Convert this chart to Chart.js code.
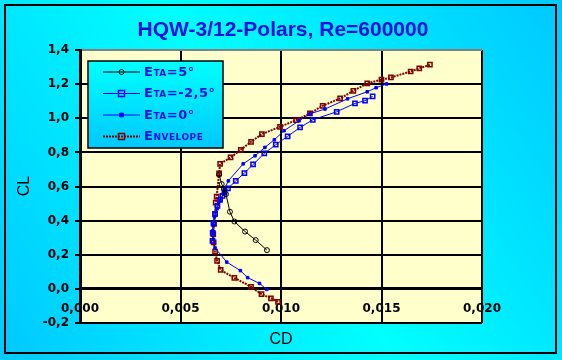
<!DOCTYPE html>
<html>
<head>
<meta charset="utf-8">
<script src="https://cdn.jsdelivr.net/npm/chart.js@4/dist/chart.umd.min.js"></script>
<style>
html,body{margin:0;padding:0;background:#fff;}
canvas{display:block;}
</style>
</head>
<body>
<canvas id="c" width="562" height="360"></canvas>
<script>
// ---- data ----
const titleText = 'HQW-3/12-Polars, Re=600000';
const xTitle = 'CD';
const yTitle = 'CL';
const seriesNames = ['Eta=5°', 'Eta=-2,5°', 'Eta=0°', 'Envelope'];

const xTickLabels = ['0,000', '0,005', '0,010', '0,015', '0,020'];
const yTickLabels = ['-0,2', '0,0', '0,2', '0,4', '0,6', '0,8', '1,0', '1,2', '1,4'];

const eta5CD = [0.00692, 0.00705, 0.00716, 0.00726, 0.00746, 0.00768, 0.00821, 0.00874, 0.00930];
const eta5CL = [0.669, 0.614, 0.585, 0.555, 0.452, 0.395, 0.336, 0.286, 0.227];

const etaM25CD = [0.00659, 0.00660, 0.00664, 0.00672, 0.00684, 0.00697, 0.00709, 0.00719, 0.00736, 0.00775, 0.00818, 0.00861, 0.00917, 0.00974, 0.01033, 0.01095, 0.01158, 0.01277, 0.01368, 0.01418, 0.01456];
const etaM25CL = [0.282, 0.328, 0.384, 0.440, 0.487, 0.522, 0.545, 0.566, 0.589, 0.633, 0.679, 0.729, 0.794, 0.845, 0.894, 0.946, 0.991, 1.038, 1.087, 1.103, 1.128];

const eta0CD = [0.00929, 0.00893, 0.00834, 0.00798, 0.00730, 0.00672, 0.00663, 0.00660, 0.00662, 0.00669, 0.00682, 0.00697, 0.00713, 0.00718, 0.00738, 0.00812, 0.00871, 0.00920, 0.00967, 0.01015, 0.01090, 0.01144, 0.01219, 0.01331, 0.01429, 0.01473, 0.01526];
const eta0CL = [-0.003, 0.032, 0.066, 0.107, 0.157, 0.240, 0.291, 0.340, 0.375, 0.422, 0.469, 0.516, 0.557, 0.585, 0.633, 0.733, 0.780, 0.829, 0.874, 0.927, 0.985, 1.026, 1.054, 1.114, 1.155, 1.179, 1.201];

const envCD = [0.00985, 0.00950, 0.00903, 0.00851, 0.00768, 0.00700, 0.00682, 0.00672, 0.00665, 0.00663, 0.00667, 0.00672, 0.00675, 0.00680, 0.00692, 0.00697, 0.00749, 0.00800, 0.00851, 0.00905, 0.00995, 0.01075, 0.01144, 0.01207, 0.01294, 0.01360, 0.01429, 0.01500, 0.01547, 0.01645, 0.01688, 0.01741];
const envCL = [-0.076, -0.055, -0.031, 0.012, 0.065, 0.111, 0.164, 0.219, 0.272, 0.321, 0.381, 0.440, 0.506, 0.541, 0.677, 0.733, 0.770, 0.815, 0.862, 0.907, 0.950, 0.989, 1.028, 1.073, 1.116, 1.161, 1.204, 1.226, 1.239, 1.274, 1.292, 1.314];

function pts(xs, ys) { return xs.map((x, i) => ({x: x, y: ys[i]})); }

const BLUE_TXT = '#1010DD';

const bgPlugin = {
  id: 'bg',
  beforeDraw(chart) {
    const ctx = chart.ctx, W = chart.width, H = chart.height;
    ctx.save();
    const g = ctx.createLinearGradient(W, 0, 0, H);
    g.addColorStop(0, '#00C8FF');
    g.addColorStop(0.5, '#00FFFF');
    g.addColorStop(1, '#00C8FF');
    ctx.fillStyle = g;
    ctx.fillRect(0, 0, W, H);
    ctx.strokeStyle = '#000';
    ctx.lineWidth = 2;
    ctx.strokeRect(5, 5, 551, 348);
    const a = chart.chartArea;
    ctx.fillStyle = '#FFFFCC';
    ctx.fillRect(a.left, a.top, a.right - a.left, a.bottom - a.top);
    ctx.restore();
  },
  afterDraw(chart) {
    const ctx = chart.ctx, a = chart.chartArea;
    ctx.save();
    // title
    ctx.fillStyle = BLUE_TXT;
    ctx.font = 'bold 21px "Liberation Sans", Arial, sans-serif';
    ctx.textAlign = 'center';
    ctx.textBaseline = 'middle';
    ctx.fillText(titleText, 283, 30);
    // axis titles
    ctx.fillStyle = '#000';
    ctx.font = '16px "Liberation Sans", Arial, sans-serif';
    ctx.fillText(xTitle, (a.left + a.right) / 2, 340);
    ctx.save();
    ctx.translate(25, 186);
    ctx.rotate(-Math.PI / 2);
    ctx.fillText(yTitle, 0, 0);
    ctx.restore();
    // legend
    const bx = 88, by = 61, bw = 135, bh = 87;
    const lg = ctx.createLinearGradient(0, by, 0, by + bh);
    lg.addColorStop(0, '#00FFFF');
    lg.addColorStop(1, '#00C8FF');
    ctx.fillStyle = lg;
    ctx.fillRect(bx, by, bw, bh);
    ctx.strokeStyle = '#000';
    ctx.lineWidth = 1.5;
    ctx.strokeRect(bx, by, bw, bh);
    const rows = [72, 93.5, 115, 136.5];
    chart.data.datasets.forEach((ds, i) => {
      const y = rows[i];
      ctx.save();
      ctx.strokeStyle = ds.borderColor;
      ctx.lineWidth = ds.borderWidth;
      ctx.setLineDash(ds.borderDash || []);
      ctx.beginPath();
      ctx.moveTo(103, y);
      ctx.lineTo(140, y);
      ctx.stroke();
      ctx.setLineDash([]);
      ctx.fillStyle = ds.pointBackgroundColor;
      ctx.strokeStyle = ds.pointBorderColor;
      ctx.lineWidth = ds.pointBorderWidth;
      ctx.beginPath();
      const r = ds.pointRadius;
      if (ds.pointStyle === 'rect') {
        ctx.rect(121.5 - r, y - r, 2 * r, 2 * r);
      } else {
        ctx.arc(121.5, y, r, 0, Math.PI * 2);
      }
      ctx.fill();
      ctx.stroke();
      ctx.restore();
      ctx.save();
      ctx.fillStyle = BLUE_TXT;
      ctx.font = 'bold 13px "DejaVu Sans", sans-serif';
      if ('fontVariantCaps' in ctx) ctx.fontVariantCaps = 'small-caps';
      if ('letterSpacing' in ctx) ctx.letterSpacing = '0.5px';
      ctx.textAlign = 'left';
      ctx.textBaseline = 'middle';
      ctx.fillText(seriesNames[i], 144, y + 0.5);
      ctx.restore();
    });
    ctx.restore();
  }
};

const chart = new Chart(document.getElementById('c'), {
  type: 'scatter',
  data: {
    datasets: [
      {
        label: seriesNames[0], data: pts(eta5CD, eta5CL), showLine: true,
        borderColor: '#000000', borderWidth: 1,
        pointStyle: 'circle', pointRadius: 2.5, pointBorderWidth: 1,
        pointBorderColor: '#000000', pointBackgroundColor: 'rgba(0,0,0,0)'
      },
      {
        label: seriesNames[1], data: pts(etaM25CD, etaM25CL), showLine: true,
        borderColor: '#0000FF', borderWidth: 1,
        pointStyle: 'rect', pointRadius: 3, pointBorderWidth: 1.5,
        pointBorderColor: '#0000FF', pointBackgroundColor: 'rgba(0,0,0,0)'
      },
      {
        label: seriesNames[2], data: pts(eta0CD, eta0CL), showLine: true,
        borderColor: '#0000FF', borderWidth: 1,
        pointStyle: 'rect', pointRadius: 1.8, pointBorderWidth: 1,
        pointBorderColor: '#0000FF', pointBackgroundColor: '#0000FF'
      },
      {
        label: seriesNames[3], data: pts(envCD, envCL), showLine: true,
        borderColor: '#800000', borderWidth: 2, borderDash: [2, 1],
        pointStyle: 'rect', pointRadius: 3, pointBorderWidth: 1.5,
        pointBorderColor: '#800000', pointBackgroundColor: 'rgba(0,0,0,0)'
      }
    ]
  },
  options: {
    responsive: false,
    animation: false,
    devicePixelRatio: 1,
    layout: { padding: { left: 0, top: 50, right: 80, bottom: 37 } },
    plugins: { legend: { display: false }, title: { display: false }, tooltip: { enabled: false } },
    elements: { line: { tension: 0 } },
    scales: {
      x: {
        type: 'linear', min: 0, max: 0.02,
        position: { y: 0 },
        ticks: {
          stepSize: 0.005, color: '#000', padding: 7,
          font: { family: '"DejaVu Sans", sans-serif', size: 12, weight: 'bold' },
          callback: (v, i) => xTickLabels[i]
        },
        grid: { color: '#000', lineWidth: 2, tickLength: 6, tickColor: '#000', tickWidth: 2 },
        border: { display: true, color: '#000', width: 3 }
      },
      y: {
        type: 'linear', min: -0.2, max: 1.4,
        afterFit: (s) => { s.width = 80; },
        ticks: {
          stepSize: 0.2, color: '#000', padding: 6,
          font: { family: '"DejaVu Sans", sans-serif', size: 12, weight: 'bold' },
          callback: (v, i) => yTickLabels[i]
        },
        grid: {
          color: (c) => (c.tick && Math.abs(c.tick.value - 1.4) < 1e-6) ? '#808080' : '#000',
          lineWidth: 2, tickLength: 5, tickColor: '#000', tickWidth: 2
        },
        border: { display: true, color: '#000', width: 3 }
      }
    }
  },
  plugins: [bgPlugin]
});
</script>
</body>
</html>
